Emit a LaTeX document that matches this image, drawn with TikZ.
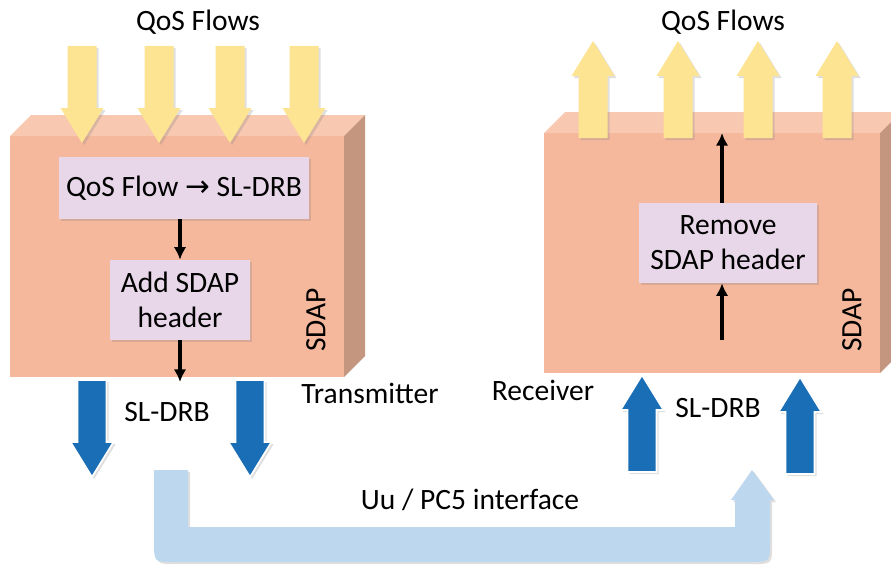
\documentclass[tikz,border=0pt]{standalone}
\usepackage{fontspec}
\setmainfont{Carlito}
\newfontfamily\symfont{DejaVu Sans}
\usetikzlibrary{positioning,shadows,arrows.meta}

\definecolor{sdapfront}{HTML}{F5B89C}
\definecolor{sdaptop}{HTML}{F8C8B0}
\definecolor{sdapside}{HTML}{C4967F}
\definecolor{procfill}{HTML}{E8D7E8}
\definecolor{qosyellow}{HTML}{FCE493}
\definecolor{drbblue}{HTML}{1A6EB6}
\definecolor{ifblue}{HTML}{BDD7EE}

\tikzset{
  softshadow/.style={drop shadow={shadow xshift=1.5pt,shadow yshift=-1.5pt,opacity=0.25}},
  procbox/.style={fill=procfill,softshadow,align=center,inner sep=2pt},
  qosflow/.style={fill=qosyellow,softshadow},
  drbflow/.style={fill=drbblue,draw=white,line width=1.2pt,softshadow},
  flowline/.style={-{Latex[length=9pt,width=9pt]},line width=2.2pt},
  lbl/.style={font=\fontsize{21}{25}\selectfont},
  pics/fatarrow/.style={code={
    \path[#1] (-14.5,0) -- (-14.5,62) -- (-21.5,62) -- (0,97) -- (21.5,62)
      -- (14.5,62) -- (14.5,0) -- cycle;}}
}

\begin{document}
\begin{tikzpicture}[x=0.025cm,y=-0.025cm,lbl]
\useasboundingbox (0,0) rectangle (891,565);

% transmitter SDAP block
\fill[sdapfront] (10,136) rectangle (344,377);
\fill[sdaptop] (10,136) -- (31,115) -- (365,115) -- (344,136) -- cycle;
\fill[sdapside] (344,136) -- (365,115) -- (365,356) -- (344,377) -- cycle;
\node[rotate=90] (txsdap) at (316,320) {SDAP};

% receiver SDAP block
\fill[sdapfront] (544,133) rectangle (880,373);
\fill[sdaptop] (544,133) -- (565,112) -- (901,112) -- (880,133) -- cycle;
\fill[sdapside] (880,133) -- (901,112) -- (901,352) -- (880,373) -- cycle;
\node[rotate=90] (rxsdap) at (852,320) {SDAP};

% QoS flows
\node (txqos) at (198,22) {QoS Flows};
\node (rxqos) at (723,22) {QoS Flows};
\foreach \x in {82,159,230,304}
  \pic at (\x,46) {fatarrow=qosflow};
\foreach \x in {593,678,758,837}
  \pic[rotate=180] at (\x,138) {fatarrow=qosflow};

% processing steps
\node[procbox,minimum width=6.25cm,minimum height=1.55cm] (map) at (184,188)
  {QoS Flow {\symfont →} SL-DRB};
\node[procbox,minimum width=3.5cm,minimum height=2cm] (addhdr) at (180,300)
  {Add SDAP\\header};
\node[procbox,minimum width=4.45cm,minimum height=2cm] (rmhdr) at (728,243)
  {Remove\\SDAP header};
\coordinate (txout) at (180,382);
\coordinate (rxin) at (722,340);
\coordinate (rxout) at (722,133);
\draw[flowline] (map.south -| addhdr) -- (addhdr);
\draw[flowline] (addhdr) -- (txout);
\draw[flowline] (rxin) -- (rxin |- rmhdr.south);
\draw[flowline] (rmhdr.north -| rxout) -- (rxout);

% sidelink radio bearers
\pic at (92,380) {fatarrow=drbflow};
\pic at (250,380) {fatarrow=drbflow};
\pic[rotate=180] at (642,472) {fatarrow=drbflow};
\pic[rotate=180] at (800,474) {fatarrow=drbflow};
\node (txdrb) at (167,412) {SL-DRB};
\node (rxdrb) at (718,408) {SL-DRB};
\node (tx) at (370,393) {Transmitter};
\node (rx) at (543,390) {Receiver};

% Uu / PC5 interface
\fill[ifblue,softshadow] (154,470) -- (188,470) -- (188,527) -- (735,527) -- (735,500)
  -- (731,500) -- (752,470) -- (774,500) -- (770,500) -- (770,542)
  .. controls (770,562) .. (750,562) -- (174,562) .. controls (154,562) .. (154,542) -- cycle;
\node (iface) at (470,500) {Uu / PC5 interface};
\end{tikzpicture}
\end{document}
